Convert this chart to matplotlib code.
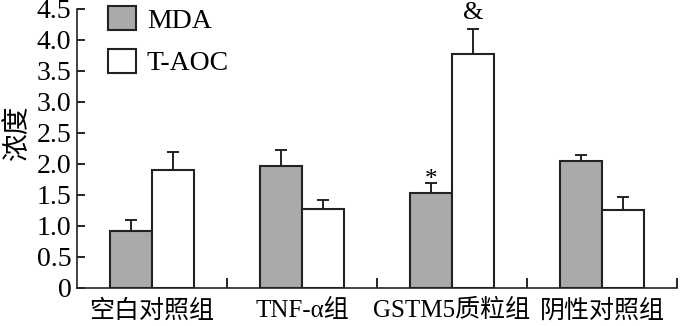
import numpy as np
import matplotlib.pyplot as plt

plt.rcParams['font.family'] = ['Liberation Serif', 'Noto Sans CJK SC']

groups = ['空白对照组', 'TNF-α组', 'GSTM5质粒组', '阴性对照组']
mda = [0.92, 1.96, 1.53, 2.05]
mda_err = [0.17, 0.27, 0.16, 0.09]
taoc = [1.90, 1.28, 3.77, 1.25]
taoc_err = [0.29, 0.14, 0.40, 0.22]
yticks = [0, 0.5, 1.0, 1.5, 2.0, 2.5, 3.0, 3.5, 4.0, 4.5]
ytick_labels = ['0', '0.5', '1.0', '1.5', '2.0', '2.5', '3.0', '3.5', '4.0', '4.5']

fig = plt.figure(figsize=(7, 3.26), dpi=100)
ax = fig.add_axes([0.11, 0.1166, 0.857, 0.856])

x = np.arange(len(groups))
w = 0.28
err_kw = dict(ecolor='#222222', elinewidth=1.4, capsize=4, capthick=1.4)
ax.bar(x - w / 2, mda, w, color='#aaaaaa', edgecolor='#222222', linewidth=1.5,
       label='MDA', zorder=3)
ax.bar(x + w / 2, taoc, w, color='white', edgecolor='#222222', linewidth=1.5,
       label='T-AOC', zorder=3)
ax.errorbar(x - w / 2, mda, yerr=[np.zeros(4), mda_err], fmt='none', zorder=2, **err_kw)
ax.errorbar(x + w / 2, taoc, yerr=[np.zeros(4), taoc_err], fmt='none', zorder=2, **err_kw)

# significance marks
ax.text(2 - w / 2, mda[2] + mda_err[2] - 0.12, '*', ha='center', va='bottom', fontsize=18)
ax.text(2 + w / 2, taoc[2] + taoc_err[2] + 0.08, '&', ha='center', va='bottom', fontsize=19)

ax.set_xlim(-0.5, 3.5)
ax.set_ylim(0, 4.5)
ax.set_yticks(yticks)
ax.set_yticklabels(ytick_labels, va='center_baseline')
ax.set_xticks(x)
ax.set_xticklabels(groups)
ax.set_xticks(np.arange(0.5, 4, 1.0), minor=True)
ax.tick_params(axis='x', which='major', length=0, pad=8, labelsize=18)
ax.tick_params(axis='x', which='minor', direction='in', length=7, width=1.2)
ax.tick_params(axis='y', direction='in', length=6, width=1.2, labelsize=20, pad=4)

for s in ['top', 'right']:
    ax.spines[s].set_visible(False)
for s in ['left', 'bottom']:
    ax.spines[s].set_linewidth(1.2)
    ax.spines[s].set_color('#222222')

ax.set_ylabel('浓度', fontsize=20)
ax.yaxis.set_label_coords(-0.076, 0.555)

ax.legend(loc='upper left', bbox_to_anchor=(0.01, 1.10), frameon=False, fontsize=20,
          handlelength=1.0, handleheight=0.95, labelspacing=0.55, handletextpad=0.4)

fig.savefig('out.png', dpi=100)
